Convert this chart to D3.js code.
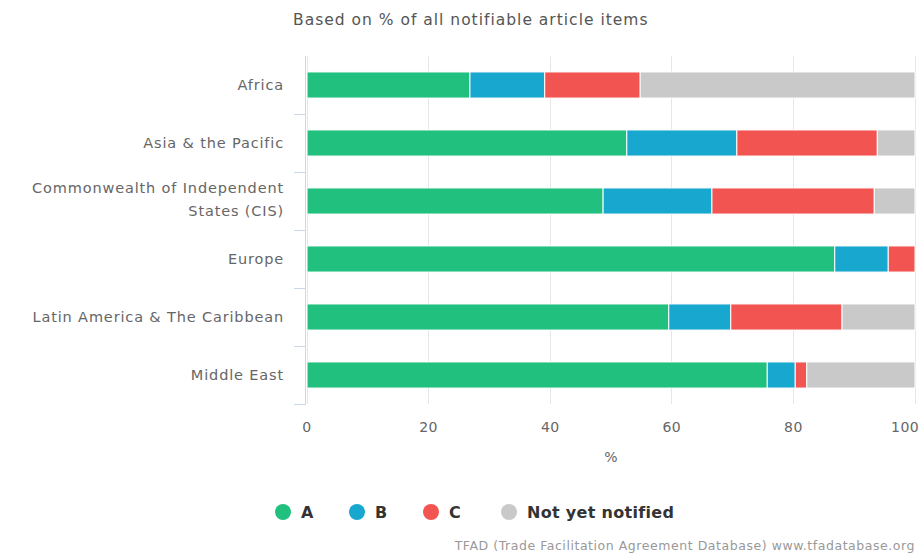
<!DOCTYPE html>
<html><head><meta charset="utf-8">
<script src="https://cdn.jsdelivr.net/npm/d3@7"></script>
<style>body{margin:0;background:#fff;}svg{display:block;}</style>
</head><body>
<svg id="chart" width="924" height="555"></svg>
<script>
const categories = ["Africa","Asia & the Pacific","Commonwealth of Independent States (CIS)","Europe","Latin America & The Caribbean","Middle East"];
const seriesNames = ["A","B","C","Not yet notified"];
const valuesA = [26.8, 52.6, 48.7, 86.8, 59.5, 75.7];
const valuesB = [12.3, 18.1, 17.9, 8.8, 10.2, 4.6];
const valuesC = [15.7, 23.1, 26.7, 4.4, 18.3, 1.9];
const valuesN = [45.2, 6.2, 6.7, 0.0, 12.0, 17.8];
const xTicks = [0,20,40,60,80,100];
const colors = ["#22c07e","#18a8cf","#f25452","#c9c9c9"];

const svg = d3.select("#chart");
const font = "'DejaVu Sans', Verdana, sans-serif";
const m = {left:306, right:915, top:56, bottom:404};
const x = d3.scaleLinear().domain([0,100]).range([m.left+1, m.right]);
const y = d3.scaleBand().domain(categories).range([m.top, m.bottom]).paddingInner(0.55).paddingOuter(0.275);

svg.append("text").attr("x",293).attr("y",25).attr("font-family",font).attr("font-size",15.5).attr("letter-spacing",1.0).attr("fill","#555")
  .text("Based on % of all notifiable article items");

// grid
svg.append("g").selectAll("line").data(xTicks).join("line")
  .attr("x1",d=>x(d)).attr("x2",d=>x(d)).attr("y1",m.top).attr("y2",m.bottom)
  .attr("stroke","#e6e6e6").attr("stroke-width",1).attr("shape-rendering","crispEdges");

// bars
const series = [valuesA,valuesB,valuesC,valuesN];
const rows = categories.map((c,i)=>{const o={cat:c}; seriesNames.forEach((s,j)=>o[s]=series[j][i]); return o;});
const stack = d3.stack().keys(seriesNames)(rows);
svg.append("g").selectAll("g").data(stack).join("g").attr("fill",(d,i)=>colors[i])
  .selectAll("rect").data(d=>d).join("rect")
  .attr("x",d=>x(d[0])).attr("width",d=>Math.max(0,x(Math.min(100,d[1]))-x(d[0])))
  .attr("y",d=>y(d.data.cat)).attr("height",y.bandwidth())
  .attr("stroke","#fff").attr("stroke-width",1);

// y axis
const band = y.step();
svg.append("line").attr("x1",m.left-0.5).attr("x2",m.left-0.5).attr("y1",m.top).attr("y2",m.bottom).attr("stroke","#ccd6eb");
svg.append("g").selectAll("line").data(categories).join("line")
  .attr("x1",m.left-12).attr("x2",m.left)
  .attr("y1",d=>Math.round(y(d)+ y.bandwidth()+ (band-y.bandwidth())/2)+0.5)
  .attr("y2",d=>Math.round(y(d)+ y.bandwidth()+ (band-y.bandwidth())/2)+0.5).attr("stroke","#ccd6eb");

const labelG = svg.append("g").attr("font-family",font).attr("font-size",14.5).attr("letter-spacing",0.85).attr("fill","#666").attr("text-anchor","end");
categories.forEach(c=>{
  const cy = y(c)+y.bandwidth()/2;
  if(c.startsWith("Commonwealth")){
    labelG.append("text").attr("x",284).attr("y",cy-8).text("Commonwealth of Independent");
    labelG.append("text").attr("x",284).attr("y",cy+15).text("States (CIS)");
  } else {
    labelG.append("text").attr("x",284).attr("y",cy+5).text(c);
  }
});

// x axis labels
svg.append("g").attr("font-family",font).attr("font-size",14).attr("letter-spacing",0.4).attr("fill","#666")
  .selectAll("text").data(xTicks).join("text")
  .attr("text-anchor",d=>d===100?"end":"middle")
  .attr("x",d=>d===100?x(d)+4:x(d)).attr("y",432).text(d=>d);
svg.append("text").attr("x",x(50)).attr("y",462).attr("text-anchor","middle").attr("font-family",font).attr("font-size",14).attr("fill","#666").text("%");

// legend
const legX = [283, 357, 431, 509];
const lg = svg.append("g");
seriesNames.forEach((s,i)=>{
  lg.append("circle").attr("cx",legX[i]).attr("cy",512).attr("r",8).attr("fill",colors[i]);
  lg.append("text").attr("x",legX[i]+18).attr("y",518).attr("font-family",font).attr("font-size",16).attr("letter-spacing",0.3).attr("font-weight","bold").attr("fill","#333").text(s);
});

svg.append("text").attr("x",915).attr("y",550).attr("text-anchor","end").attr("font-family",font).attr("font-size",12.5).attr("letter-spacing",0.55).attr("fill","#999")
  .text("TFAD (Trade Facilitation Agreement Database) www.tfadatabase.org");
</script>
</body></html>
